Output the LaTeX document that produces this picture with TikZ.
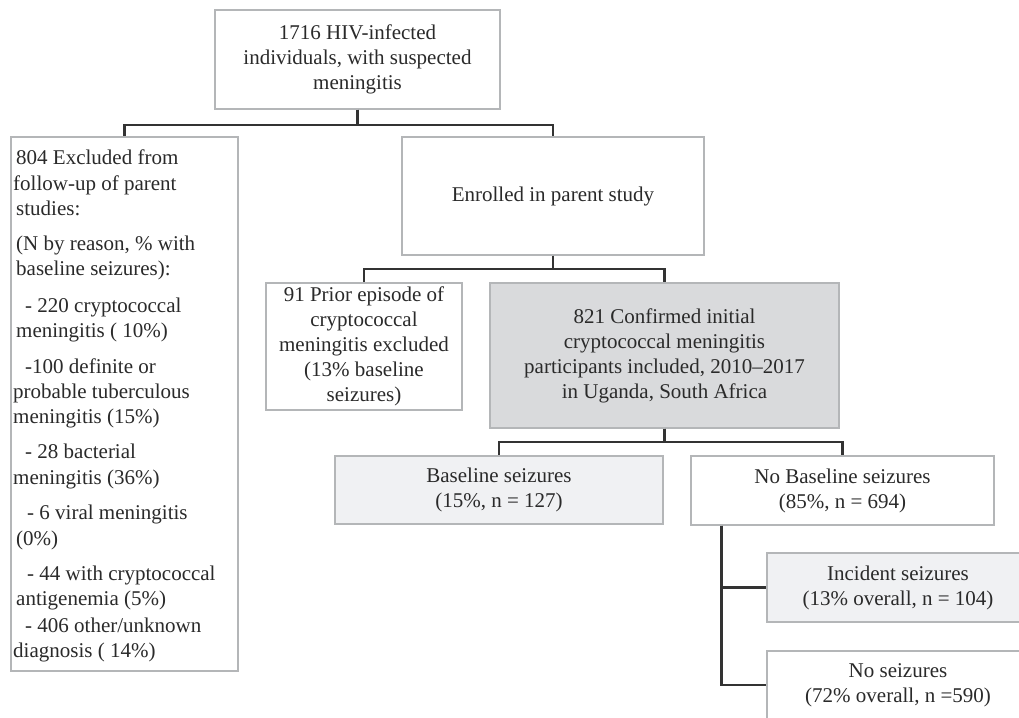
\documentclass[tikz,border=0pt]{standalone}
\usepackage{fontspec}
\setmainfont{Liberation Serif}
\definecolor{boxgray}{HTML}{B4B6B8}
\definecolor{conncol}{HTML}{333333}
\definecolor{txtcol}{HTML}{2A2A2A}
\definecolor{darkfill}{HTML}{D9DADC}
\definecolor{lightfill}{HTML}{F0F1F3}
\newcommand{\fs}{\fontsize{21}{25}\selectfont}
\begin{document}
\begin{tikzpicture}[x=1pt,y=-1pt,
  box/.style={draw=boxgray, line width=1.3pt, fill=white, inner sep=0pt,
    align=center, font=\fs, text=txtcol},
  conn/.style={draw=conncol, line width=2.3pt},
  ltxt/.style={anchor=base west, inner sep=0pt, font=\fs, text=txtcol}]
\useasboundingbox (0,0) rectangle (1019,717);
\clip (0,0) rectangle (1019,717);
% boxes
\node[box, minimum width=285pt, minimum height=99pt] (top) at (357.5,59.5)
  {1716 HIV-infected\\individuals, with suspected\\meningitis};
\node[box, minimum width=227pt, minimum height=534pt] (excl) at (124.5,404) {};
\node[box, minimum width=302pt, minimum height=118pt] (enr) at (553,196)
  {Enrolled in parent study};
\node[box, minimum width=196pt, minimum height=127pt] (prior) at (364,346.5)
  {91 Prior episode of\\cryptococcal\\meningitis excluded\\(13\% baseline\\seizures)};
\node[box, fill=darkfill, minimum width=349pt, minimum height=145pt] (conf) at (664.5,355.5)
  {821 Confirmed initial\\cryptococcal meningitis\\participants included, 2010--2017\\in Uganda, South Africa};
\node[box, fill=lightfill, minimum width=328pt, minimum height=68pt] (base) at (499,490)
  {Baseline seizures\\(15\%, n = 127)};
\node[box, minimum width=303pt, minimum height=69pt] (nobase) at (842.5,490.5)
  {No Baseline seizures\\(85\%, n = 694)};
\node[box, fill=lightfill, minimum width=262pt, minimum height=69pt] (inc) at (898,587.5)
  {Incident seizures\\(13\% overall, n = 104)};
\node[box, minimum width=262pt, minimum height=68pt] (nos) at (898,685)
  {No seizures\\(72\% overall, n =590)};
% left box text
\foreach \x/\y/\t [count=\i] in {
  16/164/{804 Excluded from},
  13/190/{follow-up of parent},
  16/215/{studies:},
  16/250/{(N by reason, \% with},
  16/275/{baseline seizures):},
  25/312/{- 220 cryptococcal},
  16/337/{meningitis ( 10\%)},
  25/373/{-100 definite or},
  13/398/{probable tuberculous},
  13/423/{meningitis (15\%)},
  25/458/{- 28 bacterial},
  13/484/{meningitis (36\%)},
  27/519/{- 6 viral meningitis},
  16/545/{(0\%)},
  27/580/{- 44 with cryptococcal},
  16/605/{antigenemia (5\%)},
  25/632/{- 406 other/unknown},
  13/657/{diagnosis ( 14\%)}}
  \node[ltxt] (L\i) at (\x,\y) {\t};
% connectors
\draw[conn] (top.south) -- ++(0,15) -| (excl.north);
\draw[conn] (top.south) -- ++(0,15) -| (enr.north);
\draw[conn] (enr.south) -- ++(0,13) -| (prior.north);
\draw[conn] (enr.south) -- ++(0,13) -| (conf.north);
\draw[conn] (conf.south) -- ++(0,13) -| (base.north);
\draw[conn] (conf.south) -- ++(0,13) -| (nobase.north);
\draw[conn] ([xshift=31pt]nobase.south west) |- (inc.west);
\draw[conn] ([xshift=31pt]nobase.south west) |- (nos.west);
\end{tikzpicture}
\end{document}
